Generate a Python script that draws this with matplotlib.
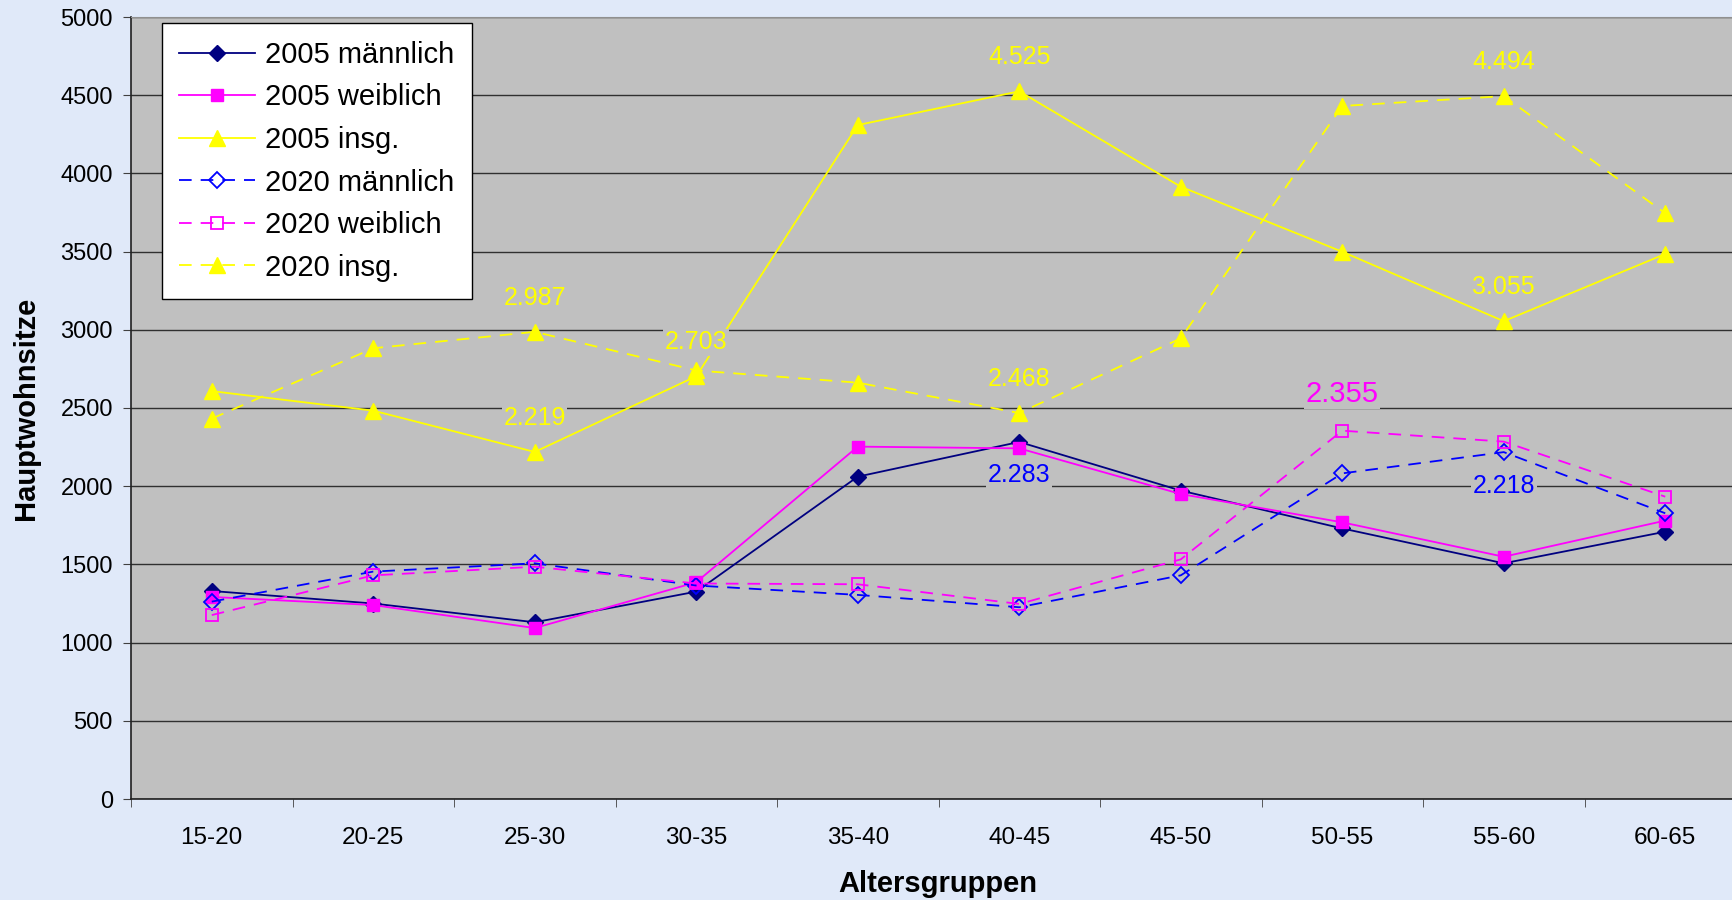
import matplotlib.pyplot as plt
from matplotlib.ticker import FixedLocator

plt.rcParams['font.family'] = ['Liberation Sans', 'DejaVu Sans']

# age groups
gruppen = ["15-20", "20-25", "25-30", "30-35", "35-40", "40-45", "45-50", "50-55", "55-60", "60-65"]

m2005 = [1330, 1250, 1130, 1326, 2061, 2283, 1972, 1730, 1507, 1709]
w2005 = [1292, 1240, 1093, 1386, 2253, 2242, 1950, 1769, 1549, 1780]
g2005 = [2608, 2483, 2219, 2703, 4309, 4525, 3915, 3499, 3055, 3485]
m2020 = [1262, 1454, 1507, 1365, 1305, 1226, 1430, 2082, 2218, 1827]
w2020 = [1176, 1430, 1485, 1378, 1373, 1247, 1532, 2355, 2285, 1933]
g2020 = [2432, 2882, 2987, 2740, 2662, 2468, 2945, 4431, 4494, 3745]

fig = plt.figure(figsize=(17.33, 9), dpi=100)
fig.patch.set_facecolor("#E0E9F9")
ax = fig.add_axes([131/1733, 101/900, 1615/1733, 782/900])
ax.set_facecolor("#C0C0C0")

x = range(len(gruppen))
dash = (0, (7, 5))
ax.plot(x, m2005, color="#000080", lw=1.3, marker="D", ms=8, label="2005 männlich", zorder=5)
ax.plot(x, w2005, color="#FF00FF", lw=1.3, marker="s", ms=9, label="2005 weiblich", zorder=5)
ax.plot(x, g2005, color="#FFFF00", lw=1.3, marker="^", ms=11, label="2005 insg.", zorder=5)
ax.plot(x, m2020, color="#0000FF", lw=1.3, ls=dash, marker="D", ms=8, mfc="none", mew=1.3,
        label="2020 männlich", zorder=5)
ax.plot(x, w2020, color="#FF00FF", lw=1.3, ls=dash, marker="s", ms=9, mfc="none", mew=1.3,
        label="2020 weiblich", zorder=5)
ax.plot(x, g2020, color="#FFFF00", lw=1.3, ls=dash, marker="^", ms=11, label="2020 insg.", zorder=5)

def lab(i, v, col, off, size=18):
    t = ax.annotate(f"{v/1000:.3f}", (i, v), xytext=(0, off), textcoords="offset pixels",
                    ha="center", va="center", color=col, fontsize=size, zorder=6)
    t.set_bbox(dict(facecolor="#C0C0C0", edgecolor="none", pad=1))

lab(2, g2020[2], "#FFFF00", 34)
lab(2, g2005[2], "#FFFF00", 34)
lab(3, g2005[3], "#FFFF00", 34)
lab(5, g2005[5], "#FFFF00", 34)
lab(5, g2020[5], "#FFFF00", 34)
lab(5, m2005[5], "#0000FF", -33)
lab(7, w2020[7], "#FF00FF", 37, size=21)
lab(8, g2020[8], "#FFFF00", 34)
lab(8, g2005[8], "#FFFF00", 34)
lab(8, m2020[8], "#0000FF", -34)

ax.set_xlim(-0.5, 9.5)
ax.set_ylim(0, 5000)
ax.set_yticks(range(0, 5001, 500))
ax.set_xticks(list(x))
ax.set_xticklabels(gruppen, fontsize=17.5)
ax.xaxis.set_minor_locator(FixedLocator([i - 0.5 for i in range(11)]))
ax.tick_params(axis="x", which="major", length=0, pad=20)
ax.tick_params(axis="x", which="minor", length=6, direction="out", color="#404040")
ax.tick_params(axis="y", length=6, direction="out", labelsize=17, pad=7, color="#404040")
ax.grid(axis="y", color="#303030", lw=1)
ax.set_axisbelow(True)
for s in ["left", "bottom"]:
    ax.spines[s].set_color("#202020")
    ax.spines[s].set_linewidth(1.2)
ax.spines["top"].set_color("#909090")
ax.spines["right"].set_visible(False)

ax.set_ylabel("Hauptwohnsitze", fontsize=21, fontweight="bold")
ax.yaxis.set_label_coords(-(131-40)/1615, 0.5)
ax.set_xlabel("Altersgruppen", fontsize=21, fontweight="bold", va="center")
ax.xaxis.set_label_coords((938-131)/1615, -(884-799)/782)

leg = ax.legend(loc="upper left", bbox_to_anchor=(0.019, 0.992), fontsize=21, frameon=True,
                fancybox=False, edgecolor="black", facecolor="white", framealpha=1,
                handlelength=2.6, handletextpad=0.35, labelspacing=0.5, borderpad=0.6,
                borderaxespad=0)
leg.get_frame().set_linewidth(1)

fig.savefig("out.png", dpi=100, facecolor=fig.get_facecolor())
